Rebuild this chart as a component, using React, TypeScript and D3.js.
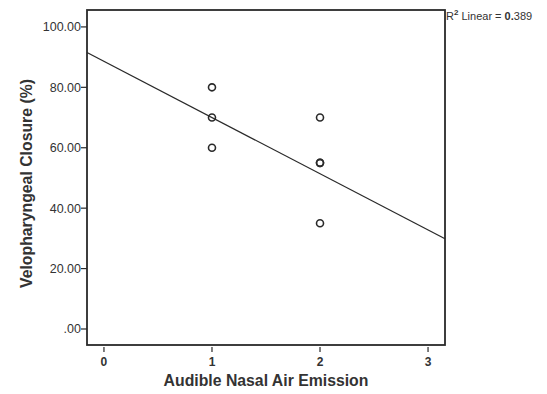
import { useEffect, useRef } from 'react';
import * as d3 from 'd3';

// Scatter data
const nasalEmission = [1, 1, 1, 2, 2, 2, 2];
const closurePct = [80, 70, 60, 70, 55, 55, 35];

const xTicks = [0, 1, 2, 3];
const yTicks = [0, 20, 40, 60, 80, 100];

// Linear fit shown in the plot
const fitIntercept = 88.6;
const fitSlope = -18.6;
const rSquared = '0.389';

export default function App() {
  const svgRef = useRef<SVGSVGElement>(null);

  useEffect(() => {
    const width = 547;
    const height = 394;
    const svg = d3.select(svgRef.current);
    svg.selectAll('*').remove();
    svg.attr('width', width).attr('height', height);

    const left = 87, right = 445, top = 10, bottom = 345;
    const ink = '#2a2a2a';
    const font = 'Arial, "Liberation Sans", sans-serif';

    const x = d3.scaleLinear().domain([-0.157, 3.157]).range([left, right]);
    const y = d3.scaleLinear().domain([-5.3, 105.6]).range([bottom, top]);

    // fit line, clipped to frame
    const [x0, x1] = x.domain();
    svg.append('line')
      .attr('x1', x(x0)).attr('y1', y(fitIntercept + fitSlope * x0))
      .attr('x2', x(x1)).attr('y2', y(fitIntercept + fitSlope * x1))
      .attr('stroke', ink)
      .attr('stroke-width', 1.3);

    // points
    svg.append('g')
      .selectAll('circle')
      .data(nasalEmission.map((v, i) => ({ x: v, y: closurePct[i] })))
      .enter().append('circle')
      .attr('cx', d => x(d.x))
      .attr('cy', d => y(d.y))
      .attr('r', 3.5)
      .attr('fill', 'none')
      .attr('stroke', ink)
      .attr('stroke-width', 1.6);

    // frame
    svg.append('rect')
      .attr('x', left).attr('y', top)
      .attr('width', right - left).attr('height', bottom - top)
      .attr('fill', 'none')
      .attr('stroke', ink)
      .attr('stroke-width', 1.8);

    // y ticks
    const yAxis = svg.append('g');
    yTicks.forEach(t => {
      yAxis.append('line')
        .attr('x1', left - 6).attr('x2', left)
        .attr('y1', y(t)).attr('y2', y(t))
        .attr('stroke', ink).attr('stroke-width', 1.2);
      yAxis.append('text')
        .attr('x', left - 6)
        .attr('y', y(t) + 4.5)
        .attr('text-anchor', 'end')
        .style('font-family', font)
        .style('font-size', '12.5px')
        .attr('fill', '#333')
        .text(t === 0 ? '.00' : t.toFixed(2));
    });

    // x ticks
    const xAxis = svg.append('g');
    xTicks.forEach(t => {
      xAxis.append('line')
        .attr('x1', x(t)).attr('x2', x(t))
        .attr('y1', bottom + 2).attr('y2', bottom + 7)
        .attr('stroke', ink).attr('stroke-width', 1.2);
      xAxis.append('text')
        .attr('x', x(t))
        .attr('y', bottom + 21)
        .attr('text-anchor', 'middle')
        .style('font-family', font)
        .style('font-size', '12px')
        .style('font-weight', 'bold')
        .attr('fill', '#333')
        .text(String(t));
    });

    // axis titles
    svg.append('text')
      .attr('x', (left + right) / 2)
      .attr('y', 386)
      .attr('text-anchor', 'middle')
      .style('font-family', font)
      .style('font-size', '15.8px')
      .style('font-weight', 'bold')
      .attr('fill', '#333')
      .text('Audible Nasal Air Emission');

    svg.append('text')
      .attr('transform', `translate(32,${(top + bottom) / 2 + 6}) rotate(-90)`)
      .attr('text-anchor', 'middle')
      .style('font-family', font)
      .style('font-size', '15.8px')
      .style('font-weight', 'bold')
      .attr('fill', '#333')
      .text('Velopharyngeal Closure (%)');

    // R² annotation
    const r2 = svg.append('text')
      .attr('x', right + 1)
      .attr('y', 20)
      .style('font-family', font)
      .style('font-size', '11px')
      .attr('fill', '#333');
    r2.append('tspan').text('R');
    r2.append('tspan').attr('dy', -5).style('font-size', '8px').style('font-weight', 'bold').text('2');
    r2.append('tspan').attr('dy', 5).text(' Linear = ');
    r2.append('tspan').style('font-weight', 'bold').text(rSquared.slice(0, 2));
    r2.append('tspan').text(rSquared.slice(2));
  }, []);

  return (
    <div style={{ position: 'absolute', left: 0, top: 0, background: '#fff' }}>
      <svg ref={svgRef} style={{ display: 'block' }}></svg>
    </div>
  );
}
